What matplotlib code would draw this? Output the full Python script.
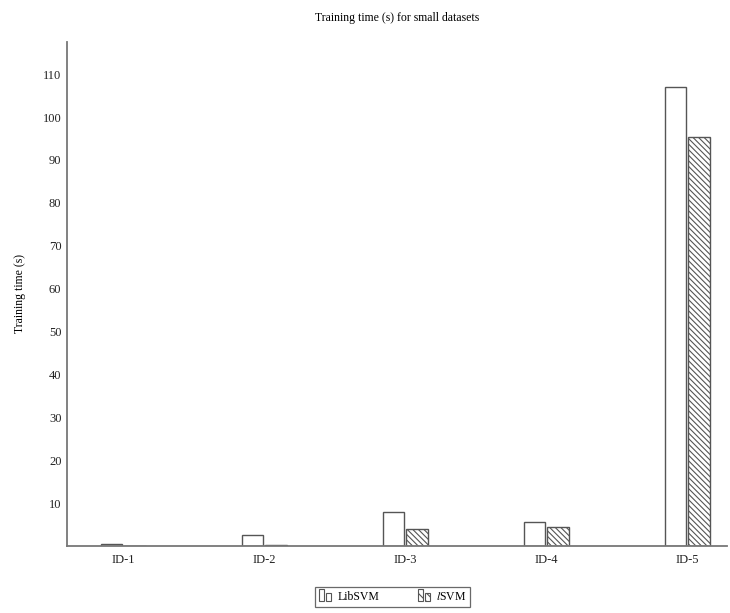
import matplotlib
matplotlib.use("Agg")
import matplotlib.pyplot as plt
import numpy as np
from matplotlib.legend_handler import HandlerBase
from matplotlib.patches import Rectangle

categories = ["ID-1", "ID-2", "ID-3", "ID-4", "ID-5"]
libsvm = [0.5, 2.6, 8.0, 5.6, 107.0]
lsvm = [0.05, 0.3, 4.0, 4.4, 95.3]
yticks = [10, 20, 30, 40, 50, 60, 70, 80, 90, 100, 110]

plt.rcParams['font.family'] = ['Liberation Serif', 'DejaVu Serif']
plt.rcParams['mathtext.fontset'] = 'stix'
plt.rcParams['hatch.linewidth'] = 0.8
plt.rcParams['hatch.color'] = '#444444'

fig = plt.figure(figsize=(7.3, 6.13), dpi=100)
ax = fig.add_axes([0.0918, 0.1093, 0.9042, 0.8222])

x = np.arange(len(categories))
w = 0.15
edge = '#555555'
b1 = ax.bar(x - 0.08, libsvm, w, facecolor='white', edgecolor=edge, linewidth=1.0, label='LibSVM')
b2 = ax.bar(x + 0.085, lsvm, w, facecolor='white', edgecolor=edge, linewidth=1.0,
            hatch='\\\\\\\\\\\\', label='$l$SVM')

ax.set_xlim(-0.397, 4.284)
ax.set_ylim(0, 117.5)
ax.set_xticks(x)
ax.set_xticklabels(categories, fontsize=9)
ax.set_yticks(yticks)
ax.set_yticklabels([str(t) for t in yticks], fontsize=9)
ax.tick_params(axis='y', length=0, pad=4, colors='#222222')
ax.tick_params(axis='x', length=0, pad=6, colors='#222222')
for s in ['top', 'right']:
    ax.spines[s].set_visible(False)
for s in ['left', 'bottom']:
    ax.spines[s].set_color('#777777')
    ax.spines[s].set_linewidth(1.3)

ax.set_ylabel('Training time (s)', fontsize=8.5, labelpad=12)
ax.set_title('Training time (s) for small datasets', fontsize=8.5, pad=15)


class TwoBarHandler(HandlerBase):
    def __init__(self, hatch=None):
        super().__init__()
        self.hatch = hatch

    def create_artists(self, legend, orig_handle, xdescent, ydescent, width, height, fontsize, trans):
        bw = width * 0.35
        r1 = Rectangle((-xdescent, -ydescent - 1), bw, height + 3, facecolor='white',
                       edgecolor=edge, linewidth=0.8, hatch=self.hatch, transform=trans)
        r2 = Rectangle((-xdescent + bw + 1.5, -ydescent - 1), bw, height * 0.8 + 1, facecolor='white',
                       edgecolor=edge, linewidth=0.8, hatch=self.hatch, transform=trans)
        return [r1, r2]


leg = fig.legend([b1, b2], ['LibSVM', '$l$SVM'], loc='center', bbox_to_anchor=(0.538, 0.026),
                 ncol=2, fontsize=8.5, frameon=True, fancybox=False, handlelength=1.2,
                 handletextpad=0.3, columnspacing=3.3, borderpad=0.35,
                 handler_map={b1: TwoBarHandler(), b2: TwoBarHandler('\\\\\\\\')})
leg.get_frame().set_edgecolor('#444444')
leg.get_frame().set_linewidth(0.9)

fig.savefig('out.png', dpi=100)
